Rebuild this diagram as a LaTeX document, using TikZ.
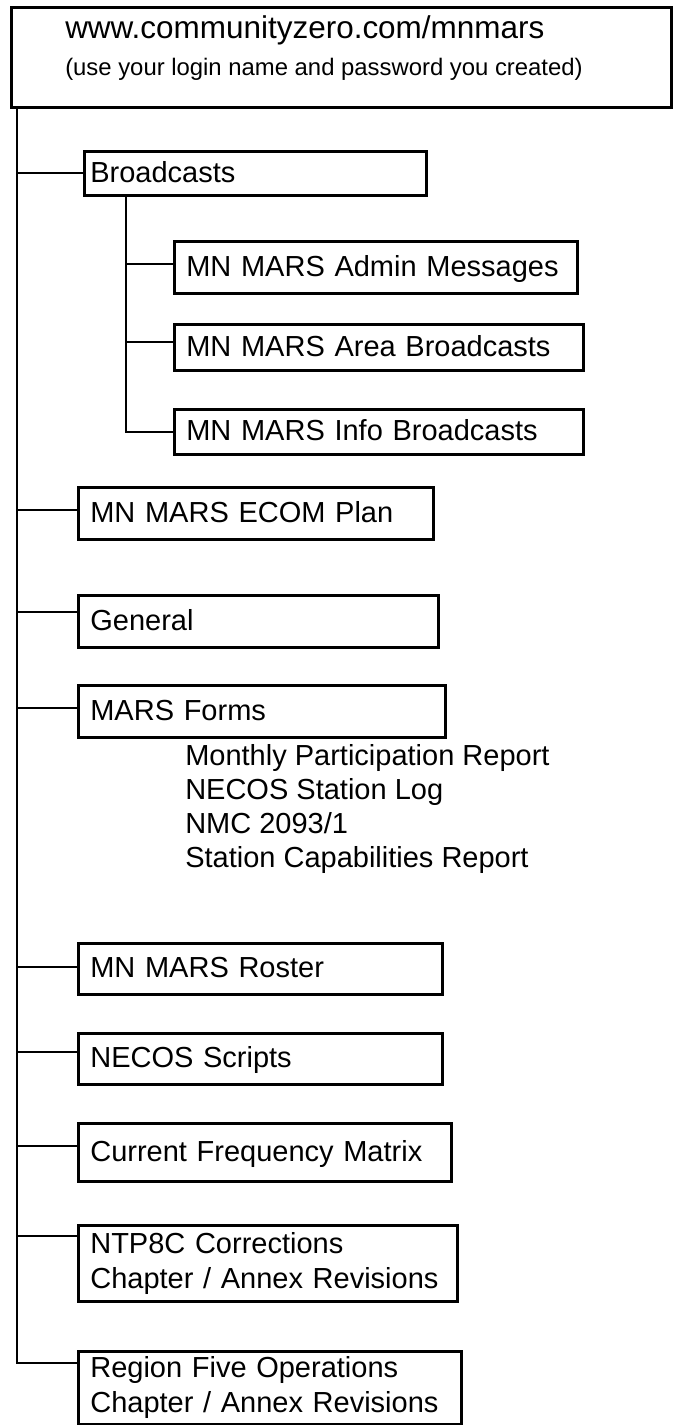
\documentclass[tikz,border=0pt]{standalone}
\usepackage{fontspec}
\setmainfont{Liberation Sans}
\newcommand\bxfont{\fontsize{21.75}{26.25}\selectfont}
\begin{document}
\begin{tikzpicture}[x=0.75pt,y=-0.75pt,
  ln/.style={line width=2pt},
  bx/.style 2 args={draw, line width=2pt, anchor=north west, inner xsep=9pt, inner ysep=0pt,
    text width=#1pt, minimum height=#2pt, align=left, font=\bxfont},
  one/.style={text height=18pt, text depth=4.35pt},
  lst/.style={anchor=base west, inner sep=0pt, font=\bxfont}]
\useasboundingbox (0,0) rectangle (675,1425);

% top box
\node[draw, line width=2pt, anchor=north west, minimum width=495pt, minimum height=75pt, inner sep=0pt] (top) at (10,6) {};
\node[anchor=base west, inner sep=0pt, font=\fontsize{23.6}{28}\selectfont] (url) at (65,38) {www.communityzero.com/mnmars};
\node[anchor=base west, inner sep=0pt, font=\fontsize{17.9}{22}\selectfont] (login) at (65,75) {(use your login name and password you created)};

% boxes
\node[bx={247.5}{33}, one, inner xsep=4.5pt] (broad) at (83,150) {Broadcasts};
\node[bx={284.25}{39}, one] (admin) at (173,240) {MN MARS Admin Messages};
\node[bx={288.75}{34.5}, one] (area) at (173,323) {MN MARS Area Broadcasts};
\node[bx={288.75}{33.75}, one] (info) at (173,408) {MN MARS Info Broadcasts};
\node[bx={248.25}{39}, one] (ecom) at (77,486) {MN MARS ECOM Plan};
\node[bx={252}{39}, one] (gen) at (77,594) {General};
\node[bx={257.25}{39}, one] (forms) at (77,684) {MARS Forms};
\node[lst] (f1) at (185,765) {Monthly Participation Report};
\node[lst] (f2) at (185,799) {NECOS Station Log};
\node[lst] (f3) at (185,833) {NMC 2093/1};
\node[lst] (f4) at (185,867) {Station Capabilities Report};
\node[bx={255}{38.25}, one] (roster) at (77,942) {MN MARS Roster};
\node[bx={255}{38.25}, one] (necos) at (77,1032) {NECOS Scripts};
\node[bx={261.75}{43.5}, one] (freq) at (77,1122) {Current Frequency Matrix};
\node[bx={266.25}{57}] (ntp) at (77,1224) {NTP8C Corrections\\Chapter / Annex Revisions};
\node[bx={269.25}{54.75}] (region) at (77,1350) {Region Five Operations\\Chapter / Annex Revisions};

% trunk coordinates
\coordinate (tk) at (17,106);
\coordinate (bBroad) at (17,173);
\coordinate (bEcom) at (17,510);
\coordinate (bGen) at (17,612);
\coordinate (bForms) at (17,708);
\coordinate (bRoster) at (17,967);
\coordinate (bNecos) at (17,1052);
\coordinate (bFreq) at (17,1146);
\coordinate (bNtp) at (17,1236);
\coordinate (bRegion) at (17,1363);
\coordinate (sk) at (126,194);
\coordinate (sAdmin) at (126,264);
\coordinate (sArea) at (126,342);
\coordinate (sInfo) at (126,432);

% main trunk
\draw[ln] (tk) |- (bRegion -| region.west);
\draw[ln] (bBroad) -- (bBroad -| broad.west);
\draw[ln] (bEcom) -- (bEcom -| ecom.west);
\draw[ln] (bGen) -- (bGen -| gen.west);
\draw[ln] (bForms) -- (bForms -| forms.west);
\draw[ln] (bRoster) -- (bRoster -| roster.west);
\draw[ln] (bNecos) -- (bNecos -| necos.west);
\draw[ln] (bFreq) -- (bFreq -| freq.west);
\draw[ln] (bNtp) -- (bNtp -| ntp.west);

% sub trunk
\draw[ln] (sk) |- (sInfo -| info.west);
\draw[ln] (sAdmin) -- (sAdmin -| admin.west);
\draw[ln] (sArea) -- (sArea -| area.west);
\end{tikzpicture}
\end{document}
